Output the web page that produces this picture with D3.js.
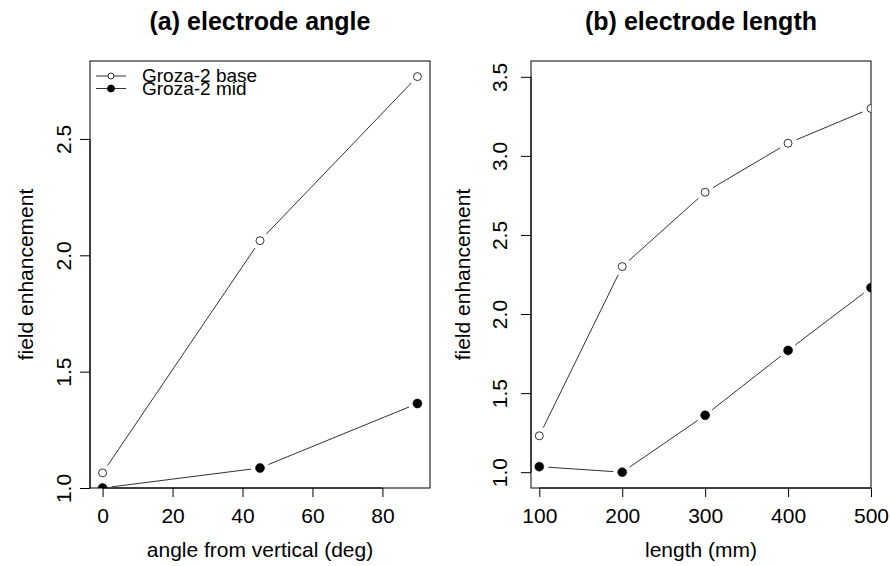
<!DOCTYPE html>
<html>
<head>
<meta charset="utf-8">
<script src="https://cdn.jsdelivr.net/npm/d3@7"></script>
<style>
  body { margin: 0; background: #fff; }
  text { font-family: "Liberation Sans", Arial, sans-serif; fill: #000; }
</style>
</head>
<body>
<div id="plot"></div>
<script>
// ---- data ----
const angles = [0, 45, 90];
const angleBase = [1.065, 2.063, 2.768];
const angleMid = [1.0, 1.086, 1.363];

const lengths = [100, 200, 300, 400, 500];
const lengthBase = [1.23, 2.30, 2.77, 3.08, 3.30];
const lengthMid = [1.035, 1.0, 1.36, 1.77, 2.167];

const angleTicksX = [0, 20, 40, 60, 80];
const angleTicksY = [1.0, 1.5, 2.0, 2.5];
const lengthTicksX = [100, 200, 300, 400, 500];
const lengthTicksY = [1.0, 1.5, 2.0, 2.5, 3.0, 3.5];

const legendLabels = ["Groza-2 base", "Groza-2 mid"];

const w = 890, h = 566;

const svg = d3.select("div#plot")
  .append("svg")
  .attr("width", w)
  .attr("height", h);

// draw one panel, R base-graphics style
function panel(cfg) {
  const xScale = d3.scaleLinear().domain(cfg.xdom).range([cfg.left, cfg.right]);
  const yScale = d3.scaleLinear().domain(cfg.ydom).range([cfg.bottom, cfg.top]);
  const g = svg.append("g");

  g.append("clipPath").attr("id", cfg.id)
    .append("rect")
    .attr("x", cfg.left).attr("y", cfg.top)
    .attr("width", cfg.right - cfg.left).attr("height", cfg.bottom - cfg.top);

  // title
  g.append("text")
    .attr("x", (cfg.left + cfg.right) / 2)
    .attr("y", 30)
    .attr("text-anchor", "middle")
    .style("font-size", "25px")
    .style("font-weight", "bold")
    .text(cfg.title);

  // box
  g.append("rect")
    .attr("x", cfg.left).attr("y", cfg.top)
    .attr("width", cfg.right - cfg.left).attr("height", cfg.bottom - cfg.top)
    .attr("fill", "none").attr("stroke", "#000").attr("stroke-width", 1);

  // x axis
  const xAxis = d3.axisBottom(xScale).tickValues(cfg.xticks).tickSize(9)
    .tickFormat(d3.format("d"));
  const xa = g.append("g")
    .attr("transform", `translate(0, ${cfg.bottom})`)
    .call(xAxis);
  xa.select(".domain").attr("d", `M${xScale(cfg.xticks[0])},0H${xScale(cfg.xticks[cfg.xticks.length - 1])}`);
  xa.selectAll(".tick text")
    .attr("dy", null).attr("y", 35)
    .style("font-size", "21px").attr("fill", "#000");

  // y axis
  const yAxis = d3.axisLeft(yScale).tickValues(cfg.yticks).tickSize(10).tickFormat(d3.format(".1f"));
  const ya = g.append("g")
    .attr("transform", `translate(${cfg.left}, 0)`)
    .call(yAxis);
  ya.select(".domain").attr("d", `M0,${yScale(cfg.yticks[0])}V${yScale(cfg.yticks[cfg.yticks.length - 1])}`);
  ya.selectAll(".tick text")
    .attr("x", null).attr("dy", null)
    .attr("text-anchor", "middle")
    .attr("transform", `translate(${-cfg.tickOff},0) rotate(-90)`)
    .attr("y", 0)
    .style("font-size", "21px").attr("fill", "#000");

  // axis labels
  g.append("text")
    .attr("x", (cfg.left + cfg.right) / 2)
    .attr("y", 557)
    .attr("text-anchor", "middle")
    .style("font-size", "21px")
    .text(cfg.xlab);

  g.append("text")
    .attr("transform", `translate(${cfg.left - cfg.labOff}, ${(cfg.top + cfg.bottom) / 2}) rotate(-90)`)
    .attr("text-anchor", "middle")
    .style("font-size", "21px")
    .text("field enhancement");

  // series: lines with gaps around points (type = "b")
  const plot = g.append("g").attr("clip-path", `url(#${cfg.id})`);
  const gap = 9;
  cfg.series.forEach(s => {
    const pts = cfg.xs.map((x, i) => [xScale(x), yScale(s.values[i])]);
    for (let i = 0; i < pts.length - 1; i++) {
      const [x1, y1] = pts[i], [x2, y2] = pts[i + 1];
      const len = Math.hypot(x2 - x1, y2 - y1);
      if (len <= 2 * gap) continue;
      const ux = (x2 - x1) / len, uy = (y2 - y1) / len;
      plot.append("line")
        .attr("x1", x1 + ux * gap).attr("y1", y1 + uy * gap)
        .attr("x2", x2 - ux * gap).attr("y2", y2 - uy * gap)
        .attr("stroke", "#333").attr("stroke-width", 1);
    }
    plot.selectAll(null)
      .data(pts)
      .enter()
      .append("circle")
        .attr("cx", d => d[0])
        .attr("cy", d => d[1])
        .attr("r", s.filled ? 4.5 : 4)
        .attr("fill", s.filled ? "#000" : "#fff")
        .attr("stroke", "#000")
        .attr("stroke-width", s.filled ? 0.5 : 0.8);
  });

  return { xScale, yScale, g };
}

const pa = panel({
  id: "clipa", title: "(a) electrode angle",
  left: 90, right: 430, top: 61, bottom: 488,
  xdom: [-3.6, 93.6], ydom: [1.0, 2.835],
  xticks: angleTicksX, yticks: angleTicksY,
  tickOff: 19, labOff: 57,
  xlab: "angle from vertical (deg)",
  xs: angles,
  series: [{ values: angleBase, filled: false }, { values: angleMid, filled: true }]
});

panel({
  id: "clipb", title: "(b) electrode length",
  left: 531, right: 871, top: 61, bottom: 488,
  xdom: [90, 500], ydom: [0.9, 3.6],
  xticks: lengthTicksX, yticks: lengthTicksY,
  tickOff: 24, labOff: 61,
  xlab: "length (mm)",
  xs: lengths,
  series: [{ values: lengthBase, filled: false }, { values: lengthMid, filled: true }]
});

// legend (no box)
const legend = pa.g.append("g");
legendLabels.forEach((lab, i) => {
  const y = 76 + i * 12.5;
  legend.append("line")
    .attr("x1", 96).attr("x2", 126).attr("y1", y).attr("y2", y)
    .attr("stroke", "#333").attr("stroke-width", 1);
  legend.append("circle")
    .attr("cx", 111).attr("cy", y)
    .attr("r", i === 0 ? 3 : 3.5)
    .attr("fill", i === 0 ? "#fff" : "#000")
    .attr("stroke", "#000").attr("stroke-width", 0.8);
  legend.append("text")
    .attr("x", 142).attr("y", y + 6)
    .style("font-size", "19px")
    .text(lab);
});
</script>
</body>
</html>
